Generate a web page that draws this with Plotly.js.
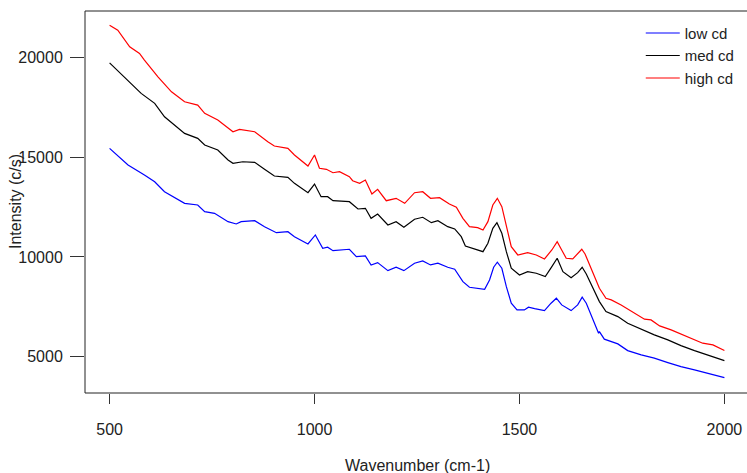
<!DOCTYPE html>
<html>
<head>
<meta charset="utf-8">
<script src="https://cdn.plot.ly/plotly-3.0.1.min.js"></script>
<style>
html,body{margin:0;padding:0;overflow:hidden;background:#fff;}
#chart{width:749px;height:473px;}
</style>
</head>
<body>
<div id="chart"></div>
<script>
// Wavenumber (cm-1) and intensity (c/s)
const seriesNames = ["low cd", "med cd", "high cd"];
const seriesColors = ["#0000FF", "#000000", "#FF0000"];

const lowX = [500,545,585,610,634,683,715,732,756,789,809,821,854,878,907,935,951,984,1002,1020,1032,1045,1085,1102,1124,1138,1154,1179,1199,1218,1244,1264,1283,1301,1325,1342,1362,1378,1415,1427,1437,1446,1457,1468,1480,1494,1512,1522,1537,1561,1577,1590,1603,1626,1642,1653,1663,1679,1693,1695,1707,1740,1764,1797,1829,1862,1894,1927,1959,2000];
const lowY = [15435,14600,14100,13765,13265,12685,12600,12265,12185,11765,11650,11765,11815,11515,11215,11265,11015,10650,11100,10435,10485,10315,10385,10015,10050,9600,9715,9315,9485,9315,9685,9800,9600,9685,9485,9385,8765,8485,8385,8850,9485,9735,9435,8515,7685,7350,7350,7485,7415,7315,7685,7935,7600,7315,7600,7985,7685,6850,6185,6265,5885,5650,5315,5100,4935,4715,4515,4350,4185,3965];

const medX = [500,545,577,610,634,683,715,732,764,789,801,825,854,878,902,935,951,984,1000,1016,1032,1045,1085,1106,1124,1138,1154,1179,1199,1218,1244,1264,1285,1301,1325,1342,1358,1368,1390,1411,1423,1435,1445,1457,1468,1480,1500,1520,1541,1563,1579,1592,1606,1626,1642,1653,1663,1679,1695,1711,1740,1764,1797,1829,1862,1894,1927,1959,2000];
const medY = [19715,18850,18185,17685,17015,16185,15935,15600,15350,14850,14685,14765,14735,14385,14050,13985,13685,13215,13650,13015,13015,12815,12765,12400,12435,11935,12150,11600,11765,11485,11885,11985,11715,11815,11515,11400,11015,10550,10400,10265,10685,11435,11715,11185,10265,9435,9100,9265,9185,9015,9515,9935,9265,8965,9215,9485,9150,8435,7765,7265,7015,6685,6385,6100,5850,5565,5315,5100,4815];

const highX = [500,520,549,573,585,618,651,683,715,732,764,789,801,817,854,886,902,935,951,984,1000,1012,1029,1045,1061,1085,1093,1110,1124,1140,1154,1175,1199,1220,1244,1264,1283,1305,1329,1346,1362,1378,1398,1411,1423,1435,1446,1457,1468,1480,1496,1520,1541,1561,1579,1592,1603,1614,1630,1642,1652,1660,1675,1695,1711,1724,1748,1781,1805,1821,1842,1870,1894,1919,1947,1972,2000];
const highY = [21600,21350,20515,20185,19850,19015,18265,17765,17600,17185,16850,16435,16265,16385,16265,15765,15550,15435,15100,14550,15100,14435,14385,14215,14265,14015,13815,13685,13850,13150,13385,12815,12935,12685,13215,13265,12935,12965,12650,12485,11935,11515,11465,11350,11765,12600,12935,12515,11515,10515,10100,10215,10100,9900,10350,10765,10350,9935,9900,10150,10385,10150,9435,8435,7935,7850,7600,7185,6885,6850,6550,6350,6150,5935,5685,5600,5315];

const xTicks = [500, 1000, 1500, 2000];
const yTicks = [5000, 10000, 15000, 20000];
const xTitle = "Wavenumber (cm-1)";
const yTitle = "Intensity (c/s)";

const FONT = "Liberation Sans, Arial, Helvetica, sans-serif";
const xs = [lowX, medX, highX];
const ys = [lowY, medY, highY];

const traces = seriesNames.map((n, i) => ({
  x: xs[i], y: ys[i], name: n, type: "scatter", mode: "lines",
  line: {color: seriesColors[i], width: 1.2}
}));

const layout = {
  width: 749, height: 473,
  margin: {l: 85, r: 0, t: 11, b: 80},
  paper_bgcolor: "#fff", plot_bgcolor: "#fff",
  font: {family: FONT, size: 16, color: "#222"},
  showlegend: true,
  legend: {x: 0.837, xanchor: "left", y: 0.985, yanchor: "top",
           bgcolor: "rgba(0,0,0,0)", borderwidth: 0, itemwidth: 34,
           font: {family: FONT, size: 15, color: "#222"}, tracegroupgap: 0},
  xaxis: {range: [440, 2060], tickmode: "array", tickvals: xTicks,
          ticktext: xTicks.map(String), ticks: "outside", ticklen: 10,
          tickcolor: "#333", tickwidth: 1, showline: false, zeroline: false,
          showgrid: false, ticklabelstandoff: 12, tickfont: {size: 16}},
  yaxis: {range: [3192, 22308], tickmode: "array", tickvals: yTicks,
          ticktext: yTicks.map(String), ticks: "outside", ticklen: 14,
          tickcolor: "#333", tickwidth: 1, showline: false, zeroline: false,
          showgrid: false, ticklabelstandoff: 4, tickfont: {size: 16}},
  shapes: [{type: "rect", xref: "paper", yref: "paper", x0: 0, x1: 1, y0: 0, y1: 1,
            line: {color: "#222", width: 1}}],
  annotations: [
    {text: xTitle, xref: "paper", yref: "paper", x: 0.5, y: 0, xanchor: "center",
     yanchor: "middle", yshift: -72, showarrow: false, font: {size: 16}},
    {text: yTitle, xref: "paper", yref: "paper", x: 0, y: 0.5, xanchor: "center",
     yanchor: "middle", xshift: -70, textangle: -90, showarrow: false, font: {size: 16}}
  ]
};

Plotly.newPlot("chart", traces, layout, {displayModeBar: false, staticPlot: true});
</script>
</body>
</html>
